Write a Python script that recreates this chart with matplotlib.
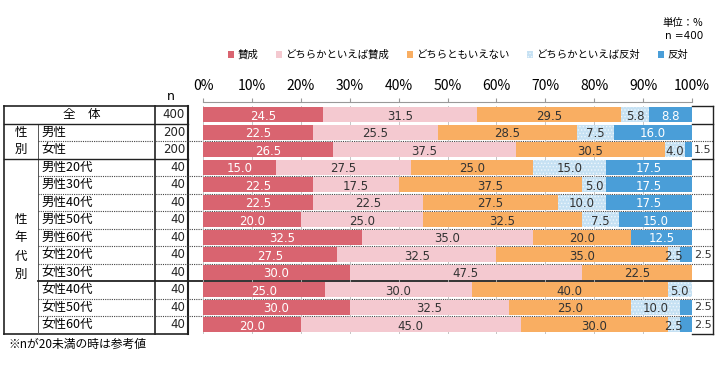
import numpy as np
import matplotlib
matplotlib.use('Agg')
import matplotlib.pyplot as plt
from matplotlib.patches import Patch

plt.rcParams['font.family'] = ['Noto Sans CJK JP', 'DejaVu Sans']
plt.rcParams['hatch.linewidth'] = 0.6

# データ（単位：%）
series = ['賛成', 'どちらかといえば賛成', 'どちらともいえない', 'どちらかといえば反対', '反対']
rows = ['全体', '男性', '女性', '男性20代', '男性30代', '男性40代', '男性50代', '男性60代',
        '女性20代', '女性30代', '女性40代', '女性50代', '女性60代']
n_values = [400, 200, 200, 40, 40, 40, 40, 40, 40, 40, 40, 40, 40]
sansei = [24.5, 22.5, 26.5, 15.0, 22.5, 22.5, 20.0, 32.5, 27.5, 30.0, 25.0, 30.0, 20.0]
yaya_sansei = [31.5, 25.5, 37.5, 27.5, 17.5, 22.5, 25.0, 35.0, 32.5, 47.5, 30.0, 32.5, 45.0]
dochira_mo = [29.5, 28.5, 30.5, 25.0, 37.5, 27.5, 32.5, 20.0, 35.0, 22.5, 40.0, 25.0, 30.0]
yaya_hantai = [5.8, 7.5, 4.0, 15.0, 5.0, 10.0, 7.5, 0.0, 2.5, 0.0, 5.0, 10.0, 2.5]
hantai = [8.8, 16.0, 1.5, 17.5, 17.5, 17.5, 15.0, 12.5, 2.5, 0.0, 0.0, 2.5, 2.5]
values = [sansei, yaya_sansei, dochira_mo, yaya_hantai, hantai]

colors = ['#D96470', '#F4C9D0', '#F9AE62', '#C6E1F3', '#4A9ED8']
text_colors = ['white', '#333333', '#333333', '#333333', 'white']
hatches = [None, None, None, '.....', None]

W, H = 718, 372
fig = plt.figure(figsize=(W / 100, H / 100), dpi=100)

# 表の線と文字用（ピクセル座標）
bg = fig.add_axes([0, 0, 1, 1])
bg.set_xlim(0, W)
bg.set_ylim(H, 0)
bg.axis('off')

top, row_h = 106, 17.5
bottom = top + row_h * len(rows)
x_left, x_grp, x_n, x_tab, x_plot0, x_plot1, x_right = 4, 38, 155, 188, 203, 692, 713

# バー
ax = fig.add_axes([x_plot0 / W, (H - bottom) / H, (x_plot1 - x_plot0) / W, (bottom - top) / H])
ax.set_xlim(0, 100)
ax.set_ylim(len(rows) - 0.5, -0.5)
y = np.arange(len(rows))
left = np.zeros(len(rows))
for k, vals in enumerate(values):
    vals = np.array(vals)
    ax.barh(y, vals, left=left, height=0.86, color=colors[k], hatch=hatches[k],
            edgecolor='#EEF6FC' if hatches[k] else colors[k], linewidth=0, zorder=2)
    for i, v in enumerate(vals):
        if v <= 0:
            continue
        if k == 4 and v < 4:
            # 小さい値は枠外に表示
            bg.text(x_plot1 + 2, top + row_h * (i + 0.5), '%.1f' % v, ha='left', va='center',
                    fontsize=8, family='DejaVu Sans', color='#333333')
        else:
            ax.text(left[i] + v / 2, i + 0.08, '%.1f' % v, ha='center', va='center',
                    fontsize=8.5, family='DejaVu Sans', color=text_colors[k], zorder=4)
    left += vals

ax.set_xticks(np.arange(0, 101, 10))
ax.set_xticklabels(['%d%%' % t for t in range(0, 101, 10)], fontsize=6.5, family='DejaVu Sans',
                   color='#333333')
ax.xaxis.tick_top()
ax.tick_params(axis='x', direction='out', length=3, color='#999999', pad=3)
ax.set_yticks([])
for s in ['left', 'right', 'bottom']:
    ax.spines[s].set_visible(False)
ax.spines['top'].set_position(('outward', 3))
ax.spines['top'].set_color('#999999')
ax.grid(axis='x', color='#BBBBBB', linewidth=0.6, zorder=1)
ax.set_axisbelow(True)
ax.patch.set_alpha(0)

# 表の罫線
lc = '#222222'
bg.plot([x_left, x_tab], [top, top], color=lc, lw=1.2)
bg.plot([x_left, x_tab], [bottom, bottom], color=lc, lw=1.2)
bg.plot([x_plot1, x_right], [top, top], color=lc, lw=1.0)
bg.plot([x_plot1, x_right], [bottom, bottom], color=lc, lw=1.0)
bg.plot([x_left, x_left], [top, bottom], color=lc, lw=1.2)
bg.plot([x_n, x_n], [top, bottom], color=lc, lw=1.2)
bg.plot([x_tab, x_tab], [top, bottom], color=lc, lw=1.5)
bg.plot([x_right, x_right], [top, bottom], color=lc, lw=1.0)
bg.plot([x_grp, x_grp], [top + row_h, bottom], color='#555555', lw=0.7)
for i in range(1, len(rows)):
    yy = top + row_h * i
    if i in (1, 3):
        bg.plot([x_left, x_tab], [yy, yy], color=lc, lw=1.0)
        bg.plot([x_plot1, x_right], [yy, yy], color=lc, lw=1.0)
    elif i == 10:
        bg.plot([x_grp, x_right], [yy, yy], color=lc, lw=1.3, zorder=5)
    else:
        bg.plot([x_grp, x_right], [yy, yy], color='#444444', lw=0.8, linestyle=(0, (1, 1)))

# 表の文字
bg.text(82, top + row_h / 2, '全　体', ha='center', va='center', fontsize=9)
bg.text(171, 97, 'n', ha='center', va='center', fontsize=9, family='DejaVu Sans')
for i, name in enumerate(rows):
    yc = top + row_h * (i + 0.5)
    if i > 0:
        bg.text(x_grp + 3, yc, name, ha='left', va='center', fontsize=9)
    bg.text(x_tab - 3, yc, str(n_values[i]), ha='right', va='center', fontsize=8.5,
            family='DejaVu Sans', color='#222222')
for j, ch in enumerate('性別'):
    bg.text(21, top + row_h * 1.5 + row_h * j, ch, ha='center', va='center', fontsize=9)
for j, ch in enumerate('性年代別'):
    bg.text(21, 220 + 18 * j, ch, ha='center', va='center', fontsize=9)

bg.text(8, 344, '※nが20未満の時は参考値', ha='left', va='center', fontsize=8.5)
bg.text(703, 23, '単位：%', ha='right', va='center', fontsize=7.5)
bg.text(703, 36, 'n =400', ha='right', va='center', fontsize=7.5, family='DejaVu Sans')

# 凡例
handles = [Patch(facecolor=colors[k], hatch=hatches[k], edgecolor='#EEF6FC' if hatches[k] else colors[k],
                 linewidth=0, label=series[k]) for k in range(5)]
fig.legend(handles=handles, loc='center', bbox_to_anchor=(458 / W, 1 - 55 / H), ncol=5,
           frameon=False, fontsize=7.5, handlelength=0.6, handleheight=0.6, handletextpad=0.3,
           columnspacing=1.7)

fig.savefig('out.png', dpi=100)
